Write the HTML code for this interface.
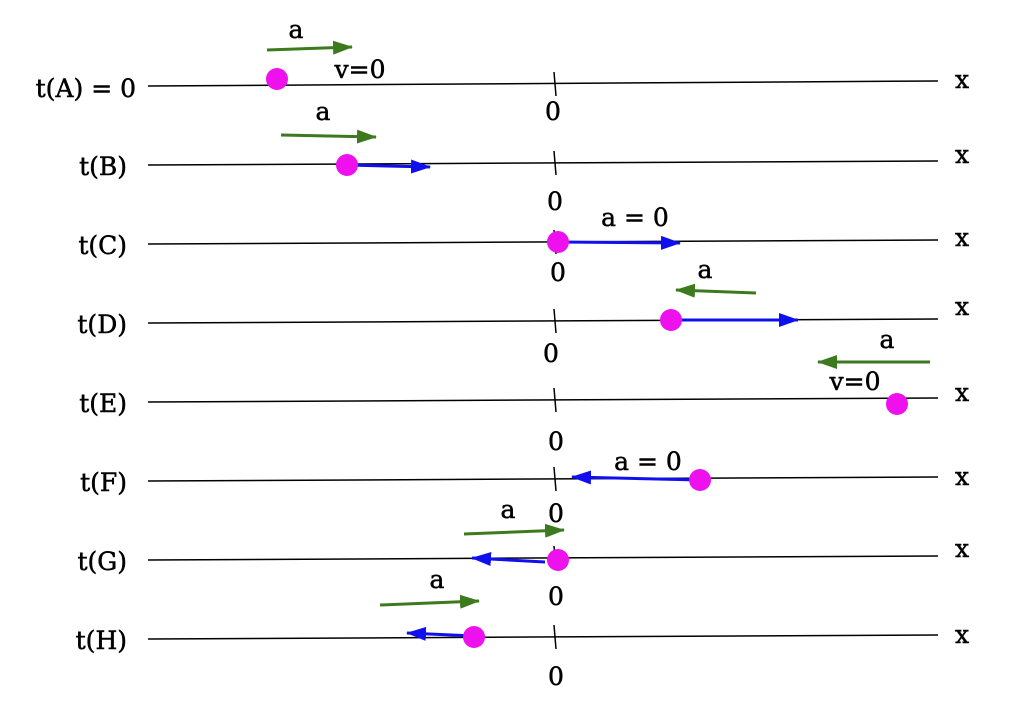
<!DOCTYPE html>
<html><head><meta charset="utf-8"><style>body{margin:0;background:#fff}svg{display:block}</style></head><body>
<svg width="1014" height="714" viewBox="0 0 1014 714" xmlns="http://www.w3.org/2000/svg" font-family="DejaVu Serif, serif" font-size="25">
<defs>
<marker id="b" markerWidth="20" markerHeight="14" refX="19" refY="7" orient="auto" markerUnits="userSpaceOnUse"><path d="M0,0 L20,7 L0,14z" fill="#1010ee"/></marker>
<marker id="gg" markerWidth="20" markerHeight="14" refX="19" refY="7" orient="auto" markerUnits="userSpaceOnUse"><path d="M0,0 L20,7 L0,14z" fill="#3d7a1f"/></marker>
</defs>
<g stroke="#000" stroke-width="1.5">
<line x1="148" y1="86" x2="938" y2="81"/>
<line x1="148" y1="165" x2="938" y2="161"/>
<line x1="148" y1="244" x2="938" y2="240"/>
<line x1="148" y1="323" x2="938" y2="319"/>
<line x1="148" y1="402" x2="938" y2="398"/>
<line x1="148" y1="481" x2="938" y2="477"/>
<line x1="148" y1="560" x2="938" y2="556"/>
<line x1="148" y1="639" x2="938" y2="635"/>
<line x1="554" y1="72" x2="556" y2="96"/>
<line x1="554" y1="151" x2="556" y2="175"/>
<line x1="554" y1="230" x2="556" y2="254"/>
<line x1="554" y1="309" x2="556" y2="333"/>
<line x1="554" y1="388" x2="556" y2="412"/>
<line x1="554" y1="467" x2="556" y2="491"/>
<line x1="554" y1="546" x2="556" y2="570"/>
<line x1="554" y1="625" x2="556" y2="649"/>
</g>
<g stroke="#000" stroke-width="0.5">
<g text-anchor="end">
<text x="136" y="97">t(A) = 0</text>
<text x="127" y="175">t(B)</text>
<text x="127" y="254">t(C)</text>
<text x="127" y="333">t(D)</text>
<text x="127" y="412">t(E)</text>
<text x="127" y="491">t(F)</text>
<text x="127" y="570">t(G)</text>
<text x="127" y="649">t(H)</text>
</g>
<g text-anchor="middle">
<text x="553" y="120">0</text><text x="555" y="210">0</text><text x="558" y="281">0</text><text x="551" y="362">0</text>
<text x="556" y="450">0</text><text x="556" y="522">0</text><text x="556" y="605">0</text><text x="556" y="685">0</text>
<text x="962" y="88">x</text><text x="962" y="163">x</text><text x="962" y="246">x</text><text x="962" y="315">x</text>
<text x="962" y="401">x</text><text x="962" y="485">x</text><text x="962" y="557">x</text><text x="962" y="643">x</text>
<text x="296" y="38">a</text><text x="360" y="78">v=0</text>
<text x="323" y="120">a</text>
<text x="635" y="226">a = 0</text>
<text x="705" y="278">a</text>
<text x="887" y="348">a</text><text x="855" y="390">v=0</text>
<text x="648" y="470">a = 0</text>
<text x="508" y="518">a</text>
<text x="437" y="588">a</text>
</g>
</g>
<g stroke="#3d7a1f" stroke-width="3" fill="none">
<line x1="267" y1="50" x2="352" y2="47" marker-end="url(#gg)"/>
<line x1="281" y1="135" x2="376" y2="137" marker-end="url(#gg)"/>
<line x1="756" y1="293" x2="676" y2="290" marker-end="url(#gg)"/>
<line x1="930" y1="362" x2="818" y2="362" marker-end="url(#gg)"/>
<line x1="464" y1="534" x2="564" y2="530" marker-end="url(#gg)"/>
<line x1="380" y1="605" x2="479" y2="601" marker-end="url(#gg)"/>
</g>
<g stroke="#1010ee" stroke-width="3" fill="none">
<line x1="347" y1="165" x2="430" y2="167" marker-end="url(#b)"/>
<line x1="558" y1="242" x2="680" y2="243" marker-end="url(#b)"/>
<line x1="671" y1="320" x2="798" y2="320" marker-end="url(#b)"/>
<line x1="700" y1="480" x2="572" y2="477" marker-end="url(#b)"/>
<line x1="545" y1="562" x2="472" y2="558" marker-end="url(#b)"/>
<line x1="474" y1="636" x2="407" y2="633" marker-end="url(#b)"/>
</g>
<g fill="#ee11ee">
<circle cx="277" cy="79" r="11"/><circle cx="347" cy="165" r="11"/><circle cx="558" cy="242" r="11"/>
<circle cx="671" cy="320" r="11"/><circle cx="897" cy="404" r="11"/><circle cx="700" cy="480" r="11"/>
<circle cx="558" cy="560" r="11"/><circle cx="474" cy="637" r="11"/>
</g>
</svg>
</body></html>
